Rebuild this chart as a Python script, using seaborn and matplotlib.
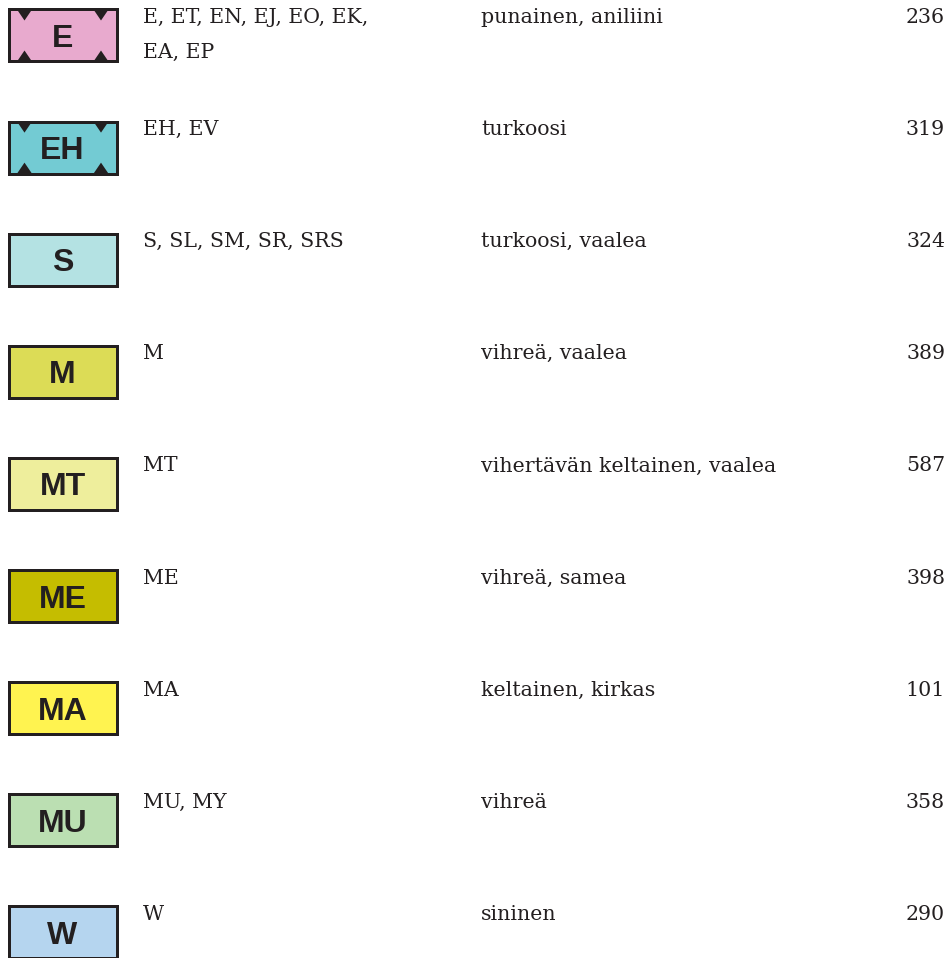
import numpy as np
import pandas as pd
import matplotlib
matplotlib.use("Agg")
import matplotlib.pyplot as plt
import seaborn as sns

# ---------------- data ----------------
codes = ["E", "EH", "S", "M", "MT", "ME", "MA", "MU", "W"]
classes = ["E, ET, EN, EJ, EO, EK,\nEA, EP", "EH, EV", "S, SL, SM, SR, SRS",
           "M", "MT", "ME", "MA", "MU, MY", "W"]
descriptions = ["punainen, aniliini", "turkoosi", "turkoosi, vaalea",
                "vihreä, vaalea", "vihertävän keltainen, vaalea",
                "vihreä, samea", "keltainen, kirkas", "vihreä", "sininen"]
numbers = ["236", "319", "324", "389", "587", "398", "101", "358", "290"]
colors = ["#e8aace", "#73cbd3", "#b4e2e3", "#dcdc56", "#eeee9c",
          "#c5bd00", "#fff350", "#bbdfb2", "#b5d5ef"]
notched = [True, True, False, False, False, False, False, False, False]

# ---------------- layout (pixels) ----------------
W_PX, H_PX = 952, 958
ROW_PITCH = 112.125
FIRST_TOP = 8.0
BOX_OUT_H = 55.0
BORDER = 3.0
X_LEFT_OUT, X_RIGHT_OUT = 7.0, 118.0
X0 = X_LEFT_OUT + BORDER / 2
BOX_INNER_W = (X_RIGHT_OUT - X_LEFT_OUT) - BORDER
FIRST_CENTER = FIRST_TOP + BOX_OUT_H / 2
INK = "#231f20"
TXT_SIZE = 14.8

def px_x(p):
    return p - X0

def py(dp):
    return dp / ROW_PITCH

df = pd.DataFrame({"code": codes, "length": [BOX_INNER_W] * len(codes)})

sns.set_theme(style="white")
plt.rcParams["font.family"] = ["DejaVu Serif", "Liberation Serif"]

fig = plt.figure(figsize=(W_PX / 100, H_PX / 100), dpi=100)
ax = fig.add_axes([0, 0, 1, 1])

sns.barplot(data=df, x="length", y="code", hue="code", palette=colors,
            order=codes, hue_order=codes, orient="h", legend=False,
            errorbar=None, saturation=1,
            width=(BOX_OUT_H - BORDER) / ROW_PITCH,
            edgecolor=INK, linewidth=BORDER * 0.72, ax=ax)
for p in ax.patches:
    p.set_joinstyle("miter")

ax.set_xlim(-X0, W_PX - X0)
ax.set_ylim((H_PX - FIRST_CENTER) / ROW_PITCH, -FIRST_CENTER / ROW_PITCH)
ax.axis("off")

half_in = (BOX_OUT_H - BORDER) / 2
for i, (code, cls, desc, num, notch) in enumerate(
        zip(codes, classes, descriptions, numbers, notched)):
    top_y = i - py(BOX_OUT_H / 2)
    # code inside box
    ax.text(px_x((X_LEFT_OUT + X_RIGHT_OUT) / 2), i + py(11.5), code,
            ha="center", va="baseline", fontsize=23, fontweight="bold",
            family=["Liberation Sans", "DejaVu Sans"], color=INK, zorder=5)
    # notches
    if notch:
        for cx in (24.5, 101.0):
            for sgn in (-1, 1):
                edge = i + sgn * py(half_in)
                apex = edge - sgn * py(11)
                ax.fill([px_x(cx - 7.5), px_x(cx + 7.5), px_x(cx)],
                        [edge, edge, apex], color=INK, lw=0, zorder=4)
    # class labels (possibly multi-line)
    for k, line in enumerate(cls.split("\n")):
        ax.text(px_x(143), top_y + py(15 + 35 * k), line, ha="left",
                va="baseline", fontsize=TXT_SIZE, color=INK)
    ax.text(px_x(481), top_y + py(15), desc, ha="left", va="baseline",
            fontsize=TXT_SIZE, color=INK)
    ax.text(px_x(945), top_y + py(15), num, ha="right", va="baseline",
            fontsize=TXT_SIZE, color=INK)

fig.savefig("out.png", dpi=100, facecolor="white")
